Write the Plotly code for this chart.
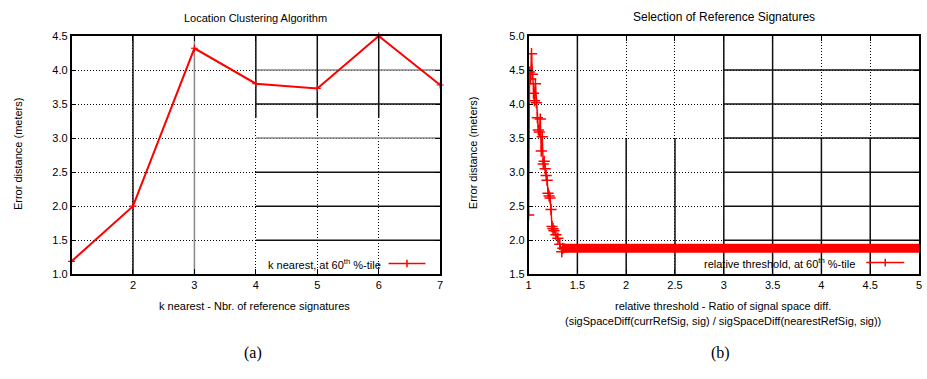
import plotly.graph_objects as go

# ---------------- data ----------------
# (a) Location clustering algorithm
k_nearest = [1, 2, 3, 4, 5, 6, 7]
err_k = [1.19, 2.0, 4.32, 3.80, 3.73, 4.50, 3.78]
a_xticks = [2, 3, 4, 5, 6, 7]
a_yticks = [1.0, 1.5, 2.0, 2.5, 3.0, 3.5, 4.0, 4.5]

# (b) Selection of reference signatures
thr_x = [1.00, 1.01, 1.02, 1.03, 1.04, 1.05, 1.06, 1.07, 1.08, 1.09, 1.10,
         1.11, 1.12, 1.13, 1.14, 1.15, 1.16, 1.17, 1.18, 1.19, 1.20, 1.21,
         1.22, 1.23, 1.24, 1.25, 1.26, 1.28, 1.30, 1.32, 1.34, 1.35]
thr_err = [2.37, 4.47, 4.37, 4.74, 4.44, 4.16, 4.05, 4.30, 4.02, 3.80, 3.62,
           3.59, 3.78, 3.31, 3.52, 3.12, 3.16, 3.05, 2.95, 2.88, 2.69, 2.65,
           2.62, 2.45, 2.20, 2.17, 2.14, 2.08, 2.03, 1.94, 1.83, 1.88]
plateau_x = [1.35, 5.0]
plateau_err = [1.88, 1.88]
b_xticks = [1.0, 1.5, 2.0, 2.5, 3.0, 3.5, 4.0, 4.5, 5.0]
b_xlabels = ["1", "1.5", "2", "2.5", "3", "3.5", "4", "4.5", "5"]
b_yticks = [1.5, 2.0, 2.5, 3.0, 3.5, 4.0, 4.5, 5.0]

RED = "#ff0000"
FONT = "Liberation Sans"
W, H = 927, 379

# plot areas in pixels -> paper domains
A_L, A_R, TOP, BOT = 69, 440, 31, 277
B_L, B_R = 529, 922


def px_x(p):
    return p / W


def px_y(p):
    return 1 - p / H


fig = go.Figure()

fig.add_trace(go.Scatter(
    x=k_nearest, y=err_k, mode="lines+markers", xaxis="x", yaxis="y",
    line=dict(color=RED, width=2),
    marker=dict(symbol="cross-thin", size=5, line=dict(color=RED, width=1.2)),
    showlegend=False, cliponaxis=False))

fig.add_trace(go.Scatter(
    x=thr_x, y=thr_err, mode="lines+markers", xaxis="x2", yaxis="y2",
    line=dict(color=RED, width=1.5),
    marker=dict(symbol="cross-thin", size=8, line=dict(color=RED, width=1.5)),
    showlegend=False))

fig.add_trace(go.Scatter(
    x=plateau_x, y=plateau_err, mode="lines", xaxis="x2", yaxis="y2",
    line=dict(color=RED, width=9),
    showlegend=False, cliponaxis=False))

tickfont = dict(family=FONT, size=11, color="black")
common = dict(showline=True, mirror="allticks", linecolor="black", linewidth=1.5,
              ticks="inside", ticklen=5, tickcolor="black", tickwidth=1,
              showgrid=True, gridcolor="black", gridwidth=1, griddash="1px,2px",
              zeroline=False, tickfont=tickfont, ticklabeloverflow="allow")

fig.update_layout(
    width=W, height=H,
    margin=dict(l=0, r=0, t=0, b=0),
    paper_bgcolor="white", plot_bgcolor="white",
    xaxis=dict(domain=[px_x(A_L), px_x(A_R)], range=[1, 7], tickvals=a_xticks,
               anchor="y", **common),
    yaxis=dict(domain=[px_y(BOT), px_y(TOP)], range=[1.0, 4.5], tickvals=a_yticks,
               tickformat=".1f", anchor="x", **common),
    xaxis2=dict(domain=[px_x(B_L), px_x(B_R)], range=[1, 5], tickvals=b_xticks,
                ticktext=b_xlabels, anchor="y2", **common),
    yaxis2=dict(domain=[px_y(BOT), px_y(TOP)], range=[1.5, 5.0], tickvals=b_yticks,
                tickformat=".1f", anchor="x2", **common),
)

# ---- grid overlays (solid segments as in the scanned original) ----
shapes = []
solid = dict(color="#111", width=1.5)
gray = dict(color="#888", width=1.5)
for yv in a_yticks[1:-1]:
    shapes.append(dict(type="line", xref="x", yref="y", x0=4, x1=7, y0=yv, y1=yv,
                       line=gray if yv in (3.0, 4.0) else solid, layer="between"))
shapes.append(dict(type="line", xref="x", yref="y", x0=2, x1=2, y0=1.0, y1=4.5,
                   line=solid, layer="between"))
shapes.append(dict(type="line", xref="x", yref="y", x0=3, x1=3, y0=1.0, y1=4.5,
                   line=gray, layer="between"))
for xv in a_xticks[2:5]:
    shapes.append(dict(type="line", xref="x", yref="y", x0=xv, x1=xv, y0=3.3, y1=4.5,
                       line=solid, layer="between"))

for yv in b_yticks[1:-1]:
    shapes.append(dict(type="line", xref="x2", yref="y2", x0=3, x1=5, y0=yv, y1=yv,
                       line=solid, layer="between"))
for xv in b_xticks[1:-1]:
    if xv in (1.5, 3, 3.5):
        shapes.append(dict(type="line", xref="x2", yref="y2", x0=xv, x1=xv,
                           y0=1.5, y1=5.0, line=solid, layer="between"))
    else:
        shapes.append(dict(type="line", xref="x2", yref="y2", x0=xv, x1=xv,
                           y0=1.5, y1=3.5, line=solid, layer="between"))

# ---- gnuplot-style legends (text left, sample right) ----
def legend(xref, yref, text, x_text, x0, x1, yc):
    ann = dict(xref=xref, yref=yref, x=x_text, y=yc, text=text, showarrow=False,
               xanchor="right", yanchor="middle",
               font=dict(family=FONT, size=11, color="black"))
    shp = [dict(type="line", xref=xref, yref=yref, x0=x0, x1=x1, y0=yc, y1=yc,
                line=dict(color=RED, width=1.5), layer="above"),
           dict(type="line", xref=xref, yref=yref, x0=(x0 + x1) / 2, x1=(x0 + x1) / 2,
                y0=yc - 0.016, y1=yc + 0.016, line=dict(color=RED, width=1.5),
                layer="above")]
    return ann, shp

ann_a, shp_a = legend("x domain", "y domain", "k nearest, at 60<sup>th</sup> %-tile",
                      0.845, 0.86, 0.96, 0.045)
ann_b, shp_b = legend("x2 domain", "y2 domain",
                      "relative threshold, at 60<sup>th</sup> %-tile",
                      0.84, 0.865, 0.962, 0.049)
shapes += shp_a + shp_b

def txt(x, y, s, size=11, angle=0, family=FONT):
    return dict(xref="paper", yref="paper", x=px_x(x), y=px_y(y), text=s,
                showarrow=False, xanchor="center", yanchor="middle",
                textangle=angle, font=dict(family=family, size=size, color="black"))

annotations = [
    ann_a, ann_b,
    txt(254, 12, "Location Clustering Algorithm"),
    txt(726, 11, "Selection of Reference Signatures", size=12),
    txt(15, 153, "Error distance (meters)", angle=-90),
    txt(473, 152, "Error distance (meters)", angle=-90),
    txt(253, 310, "k nearest - Nbr. of reference signatures"),
    txt(725, 310, "relative threshold - Ratio of signal space diff."),
    txt(725, 325, "(sigSpaceDiff(currRefSig, sig) / sigSpaceDiff(nearestRefSig, sig))"),
    txt(252, 358, "(a)", size=16, family="Liberation Serif"),
    txt(722, 358, "(b)", size=16, family="Liberation Serif"),
]

fig.update_layout(shapes=shapes, annotations=annotations)
fig.write_html("out.html",
               config={"displayModeBar": False},
               post_script="document.body.style.margin='0';"
                           "document.body.style.overflow='hidden';")
